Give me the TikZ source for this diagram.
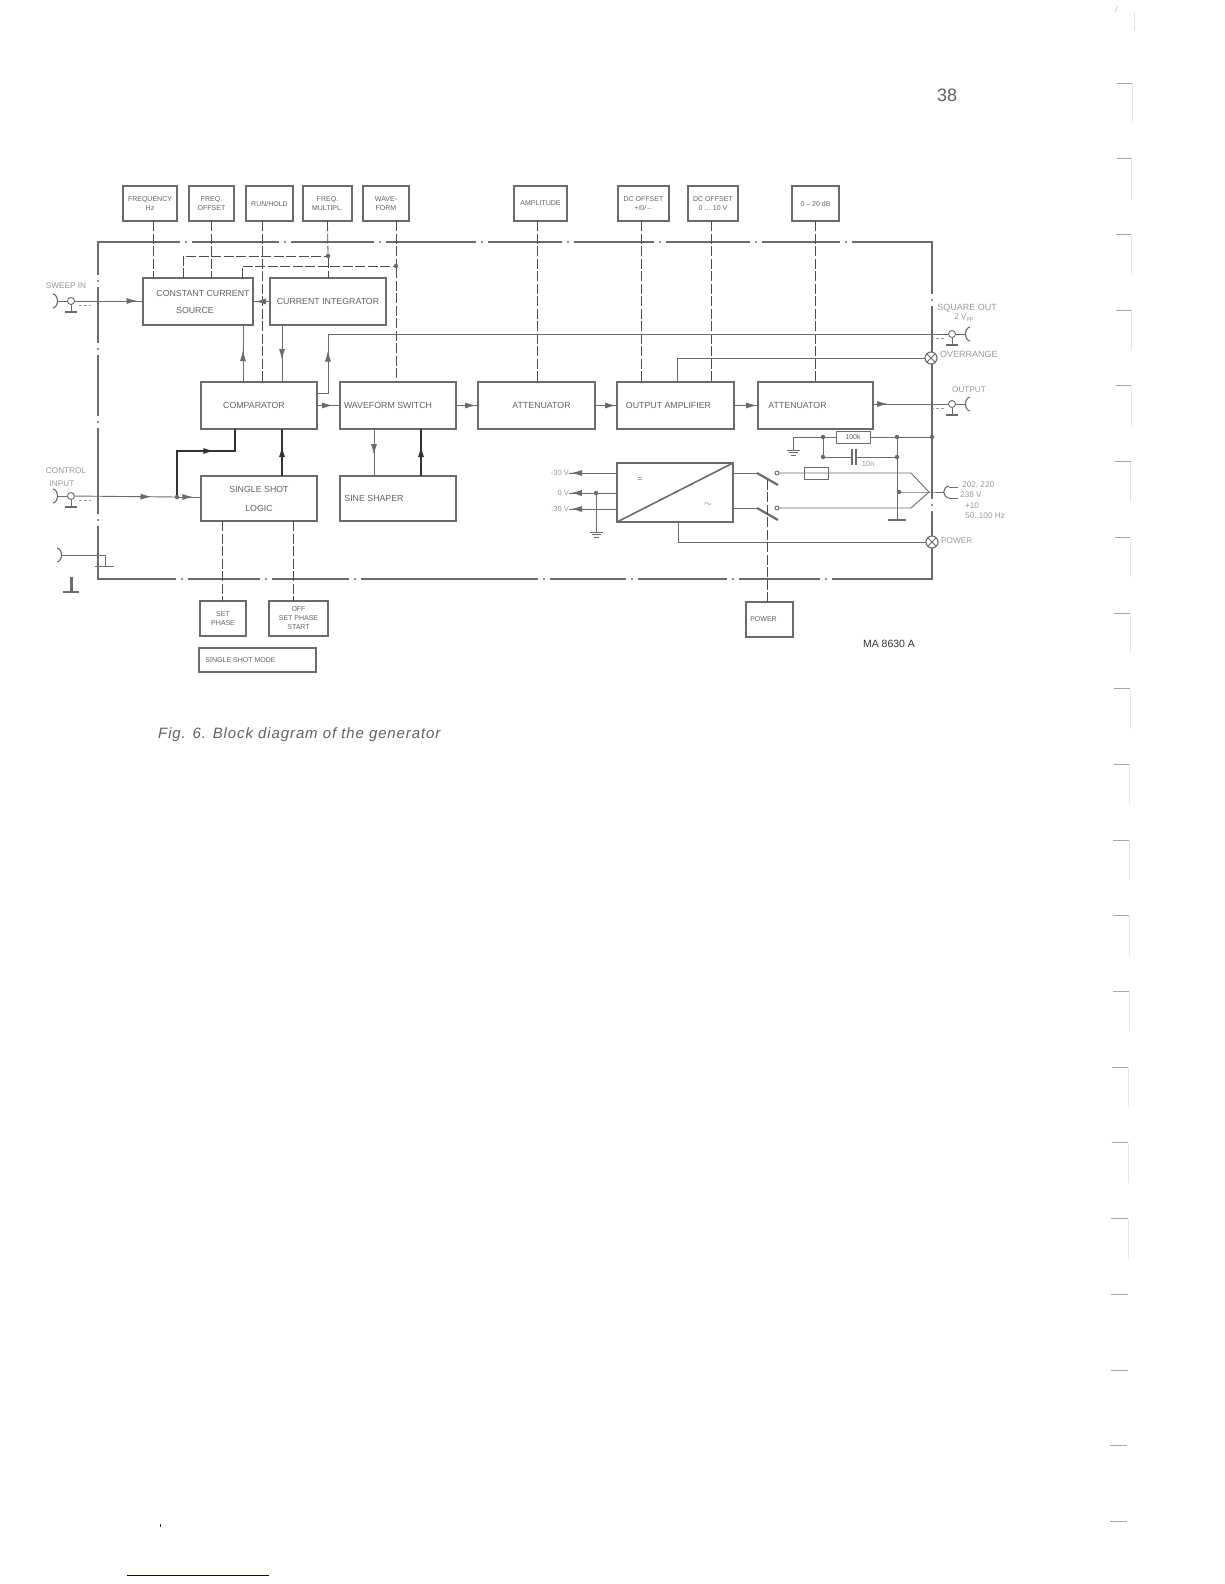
\documentclass[tikz,border=0pt]{standalone}
\usepackage{fontspec}
\setmainfont{Liberation Sans}
\newfontfamily\capfont[LetterSpace=6]{Liberation Sans}
\usetikzlibrary{arrows.meta,decorations.markings}
\definecolor{inkgray}{gray}{0.42}
\definecolor{textgray}{gray}{0.38}
\definecolor{palegray}{gray}{0.6}
\tikzset{
  blockbox/.style={draw=inkgray, line width=1.5pt, minimum height=47pt, inner sep=0pt, outer sep=0pt, align=center, text=textgray, font=\fontsize{8.8}{11}\selectfont},
  topbox/.style={blockbox, minimum height=35pt, font=\fontsize{7}{9}\selectfont},
  framebox/.style={draw=inkgray, line width=2.2pt, inner sep=0pt, outer sep=0pt},
  framegap/.style={draw=white, line width=4pt},
  wire/.style={draw=inkgray, line width=0.9pt},
  darkwire/.style={draw=black!80, line width=1.1pt},
  ctrlwire/.style={draw=black!70, line width=0.8pt, dash pattern=on 10pt off 2.5pt},
  heavy/.style={draw=inkgray, line width=2.2pt},
  arrowat/.style={decoration={markings, mark=at position #1 with {\arrow{Latex[length=11pt,width=6pt]}}}, postaction={decorate}},
  junc/.style={circle, fill=inkgray, inner sep=0pt, minimum size=4.5pt, outer sep=0pt},
  contact/.style={circle, draw=inkgray, line width=0.9pt, inner sep=0pt, minimum size=4pt, outer sep=0pt},
  lamp/.style={circle, draw=inkgray, line width=1.1pt, fill=white, inner sep=0pt, minimum size=12pt, outer sep=0pt},
  sidetext/.style={text=palegray, inner sep=0pt, font=\fontsize{8.2}{10}\selectfont},
  widetext/.style={sidetext, font=\fontsize{9}{10}\selectfont},
  smalltext/.style={text=palegray, inner sep=0pt, font=\fontsize{7.5}{10}\selectfont},
  scanmark/.style={draw=gray!70, line width=0.7pt},
  jackpic/.pic={
    \node[contact, minimum size=7pt] (-bnc) at (0,0) {};
    \coordinate (-cup) at (-13,0);
    \draw[wire] (-cup) -- (-bnc);
    \draw[wire] (0,3.5) -- (0,11);
    \draw[heavy, line width=1.6pt] (-6,11) -- (6,11);
    \draw[palegray, line width=0.6pt, densely dashed] (8,4) -- (20,4);
    \draw[wire, line width=1.1pt] (-18,-7) .. controls (-12,-6) and (-12,6) .. (-18,7);
  },
  earthpic/.pic={
    \draw[wire] (-6.5,0) -- (6.5,0);
    \draw[wire] (-4.5,2.5) -- (4.5,2.5);
    \draw[wire] (-2.5,5) -- (2.5,5);
  }
}

\begin{document}
\begin{tikzpicture}[x=1pt, y=-1pt]
    \useasboundingbox (0,0) rectangle (1224,1584);
    \node[framebox, minimum width=834pt, minimum height=337pt] (frame) at (515,410.5) {};
    \foreach \gx in {186,285,380,482,568,660,756,846} {
      \draw[framegap] (\gx-6,242) -- (\gx+6,242);
      \fill[inkgray] (\gx,242) circle (1.2);
    }
    \foreach \gx in {182,266,355,544,632,733,826} {
      \draw[framegap] (\gx-6,579) -- (\gx+6,579);
      \fill[inkgray] (\gx,579) circle (1.2);
    }
    \foreach \gy in {281,349,422,520} {
      \draw[framegap] (98,\gy-6) -- (98,\gy+6);
      \fill[inkgray] (98,\gy) circle (1.2);
    }
    \foreach \gy in {300,505} {
      \draw[framegap] (932,\gy-6) -- (932,\gy+6);
      \fill[inkgray] (932,\gy) circle (1.2);
    }

    \node[topbox, minimum width=54pt] (freq) at (150,203.5) {FREQUENCY\\Hz};
    \node[topbox, minimum width=45pt] (offs) at (211.5,203.5) {FREQ.\\OFFSET};
    \node[topbox, minimum width=47pt] (runh) at (269.5,203.5) {RUN/HOLD};
    \node[topbox, minimum width=49pt] (mult) at (327.5,203.5) {FREQ.\\MULTIPL.};
    \node[topbox, minimum width=46pt] (wave) at (386,203.5) {WAVE-\\FORM};
    \node[topbox, minimum width=53pt] (ampl) at (540.5,203.5) {AMPLITUDE};
    \node[topbox, minimum width=51pt] (dcone) at (643.5,203.5) {DC OFFSET\\+/0/$-$};
    \node[topbox, minimum width=50pt] (dctwo) at (713,203.5) {DC OFFSET\\0 ... 10 V};
    \node[topbox, minimum width=47pt] (dbbox) at (815.5,203.5) {0 -- 20 dB};

    \node[blockbox, minimum width=110pt] (ccs) at (198,301.5) {\hspace*{10pt}CONSTANT CURRENT\\[6pt]SOURCE\hspace*{6pt}};
    \node[blockbox, minimum width=116pt] (cint) at (328,301.5) {CURRENT INTEGRATOR};
    \node[blockbox, minimum width=116pt] (comp) at (259,405.5) {COMPARATOR\hspace*{10pt}};
    \node[blockbox, minimum width=116pt] (wsw) at (398,405.5) {WAVEFORM SWITCH\hspace*{20pt}};
    \node[blockbox, minimum width=117pt] (attone) at (536.5,405.5) {\hspace*{10pt}ATTENUATOR};
    \node[blockbox, minimum width=117pt] (oamp) at (675.5,405.5) {OUTPUT AMPLIFIER\hspace*{14pt}};
    \node[blockbox, minimum width=115pt] (atttwo) at (815.5,405.5) {ATTENUATOR\hspace*{36pt}};
    \node[blockbox, minimum width=116pt, minimum height=45pt] (ssl) at (259,498.5) {SINGLE SHOT\\[8pt]LOGIC};
    \node[blockbox, minimum width=116pt, minimum height=45pt] (sine) at (398,498.5) {SINE SHAPER\hspace*{48pt}};
    \node[topbox, minimum width=46pt] (setp) at (223,618.5) {SET\\PHASE};
    \node[topbox, minimum width=59pt] (offp) at (298.5,618.5) {OFF\\SET PHASE\\START};
    \node[topbox, minimum width=117pt, minimum height=24pt] (ssm) at (257.5,660) {SINGLE SHOT MODE\hspace*{34pt}};
    \node[topbox, minimum width=47pt] (pwr) at (769.5,619.5) {POWER\hspace*{12pt}};
    \node[blockbox, minimum width=116pt, minimum height=59pt] (rect) at (675,492.5) {};
    \draw[heavy, line width=1.6pt] (rect.south west) -- (rect.north east);
    \node[text=textgray, inner sep=0pt] (dcsign) at (640,480) {\fontsize{8}{8}\selectfont =};
    \node[text=textgray, inner sep=0pt] (acsign) at (708,505) {$\sim$};

    \node[junc] (multj) at (328,256) {};
    \node[junc] (wavej) at (396,266) {};
    \node[junc] (ctlj) at (177,497) {};

    \pic (sweep) at (71,301) {jackpic};
    \pic (ctl) at (71,496) {jackpic};
    \pic[xscale=-1] (sqo) at (952,334) {jackpic};
    \pic[xscale=-1] (out) at (952,404) {jackpic};
    \node[lamp] (ovrl) at (931,358) {};
    \node[lamp] (pwrl) at (932,542) {};
    \draw[wire] (ovrl.45) -- (ovrl.225);
    \draw[wire] (ovrl.135) -- (ovrl.315);
    \draw[wire] (pwrl.45) -- (pwrl.225);
    \draw[wire] (pwrl.135) -- (pwrl.315);

    \draw[ctrlwire] ([xshift=3]freq.south) -- ([xshift=3]freq.south |- ccs.north);
    \draw[ctrlwire] (offs.south) -- (offs.south |- ccs.north);
    \draw[ctrlwire] ([xshift=-7.5]runh.south) -- ([xshift=-7.5]runh.south |- comp.north);
    \draw[ctrlwire] (mult.south) -- (multj);
    \draw[ctrlwire] (multj) -- (multj |- cint.north);
    \draw[ctrlwire] ([xshift=10]wave.south) -- (wavej);
    \draw[ctrlwire] (wavej) -- (wavej |- wsw.north);
    \draw[ctrlwire] ([xshift=-15]ccs.north) |- (multj);
    \draw[ctrlwire] ([xshift=44]ccs.north) |- (wavej);
    \draw[ctrlwire] ([xshift=-3.5]ampl.south) -- ([xshift=-3.5]ampl.south |- attone.north);
    \draw[ctrlwire] ([xshift=-2.5]dcone.south) -- ([xshift=-2.5]dcone.south |- oamp.north);
    \draw[ctrlwire] ([xshift=-2]dctwo.south) -- ([xshift=-2]dctwo.south |- oamp.north);
    \draw[ctrlwire] (dbbox.south) -- (dbbox.south |- atttwo.north);
    \draw[ctrlwire] ([xshift=-0.5]setp.south |- ssl.south) -- ([xshift=-0.5]setp.north);
    \draw[ctrlwire] ([xshift=-5.5]offp.north |- ssl.south) -- ([xshift=-5.5]offp.north);

    \draw[wire, arrowat=63pt] (sweep-bnc) -- (ccs.west |- sweep-bnc);
    \draw[wire, arrowat=15pt] (cint.west) -- (ccs.east);
    \draw[wire, arrowat=32pt] ([xshift=-16]comp.north) -- ([xshift=-16]comp.north |- ccs.south);
    \draw[wire, arrowat=35pt] ([xshift=-46]cint.south) -- ([xshift=-46]cint.south |- comp.north);
    \draw[wire, arrowat=16pt] (comp.east) -- (wsw.west);
    \draw[wire, arrowat=20pt] (wsw.east) -- (attone.west);
    \draw[wire, arrowat=21pt] (attone.east) -- (oamp.west);
    \draw[wire, arrowat=23pt] (oamp.east) -- (atttwo.west);
    \draw[wire, arrowat=15pt] (atttwo.east |- out-bnc) -- (out-bnc);
    \coordinate (sqbend) at (328,334);
    \draw[wire, arrowat=54pt] ([yshift=12]comp.east) -| (sqbend) -- (sqo-bnc);
    \draw[wire] ([xshift=1.5]oamp.north) |- (ovrl);
    \draw[wire] ([xshift=3]rect.south) |- (pwrl);
    \draw[wire, arrowat=77pt] (ctl-bnc) -- (ctlj);
    \draw[wire, arrowat=14pt] (ctlj) -- (ssl.west |- ctlj);
    \coordinate (cmpbend) at (235,451);
    \draw[darkwire, arrowat=81pt] (ctlj) |- (cmpbend) -- (cmpbend |- comp.south);
    \draw[darkwire, arrowat=30pt] ([xshift=23]ssl.north) -- ([xshift=23]ssl.north |- comp.south);
    \draw[wire, arrowat=26pt] ([xshift=-24]wsw.south) -- ([xshift=-24]wsw.south |- sine.north);
    \draw[darkwire, arrowat=30pt] ([xshift=23]sine.north) -- ([xshift=23]sine.north |- wsw.south);

    \coordinate (gcup) at (62,555);
    \coordinate (gbend) at (105,555);
    \coordinate (gbar) at (105,566);
    \draw[wire] (gcup) -- (gbend) -- (gbar);
    \draw[wire] ([xshift=-10]gbar) -- ([xshift=9]gbar);
    \draw[wire, line width=1.1pt] (57,548) .. controls (63,549) and (63,561) .. (57,562);
    \coordinate (gnd) at (71,577);
    \draw[heavy, line width=3pt] (gnd) -- ++(0,15);
    \draw[heavy, line width=2.6pt] ([xshift=-8]gnd |- 0,592) -- ([xshift=8]gnd |- 0,592);

    \coordinate (rgnd) at (793,437);
    \node[junc] (rj) at (823,437) {};
    \node[blockbox, line width=1pt, minimum width=34pt, minimum height=12pt, font=\fontsize{7}{8}\selectfont] (rhund) at (853,437) {100k};
    \node[junc] (pj) at (897,437) {};
    \node[junc] (fj) at (932,437) {};
    \node[junc] (cj) at (823,457) {};
    \node[junc] (cp) at (897,457) {};
    \node[junc] (mj) at (899,492) {};
    \coordinate (capl) at (852,457);
    \coordinate (capr) at (856,457);
    \coordinate (gbot) at (897,520);
    \draw[wire] (rhund.west) -- (rj) -- (rgnd) -- ++(0,13);
    \pic at (793,450) {earthpic};
    \draw[wire] (rhund.east) -- (pj) -- (fj);
    \draw[wire] (rj) -- (cj) -- (capl);
    \draw[wire] (capr) -- (cp);
    \draw[wire, line width=1.2pt] ([yshift=8]capl) -- ([yshift=-8]capl);
    \draw[wire, line width=1.2pt] ([yshift=8]capr) -- ([yshift=-8]capr);
    \node[smalltext] (tenn) at (868,464) {10n};
    \draw[wire] (pj) -- (cp) -- (gbot);
    \draw[heavy, line width=1.6pt] ([xshift=-9]gbot) -- ([xshift=9]gbot);

    \node[contact] (contone) at (777,473) {};
    \node[contact] (conttwo) at (777,508) {};
    \coordinate (swone) at (757,473);
    \coordinate (swtwo) at (757,508);
    \coordinate (swtop) at (767,479);
    \coordinate (bendone) at (911,473);
    \coordinate (bendtwo) at (911,508);
    \coordinate (plugj) at (929,492);
    \coordinate (plugcup) at (944,492);
    \node[blockbox, line width=1pt, minimum width=24pt, minimum height=12pt] (fuse) at (816,473) {};
    \draw[wire] ([yshift=19.5]rect.east) -- (swone);
    \draw[wire] ([yshift=-15.5]rect.east) -- (swtwo);
    \draw[heavy] (swone) -- (778,485);
    \draw[heavy] (swtwo) -- (778,520);
    \draw[ctrlwire] (pwr.north -| swtop) -- (swtop);
    \draw[wire] (contone) -- (bendone) -- (plugj) -- (bendtwo) -- (conttwo);
    \draw[wire] (mj) -- (plugj) -- (plugcup);
    \draw[wire, line width=1.1pt] (949,486) .. controls (942,487) and (942,497) .. (949,498);
    \draw[wire] (949,487) -- (958,487);
    \draw[wire] (949,498) -- (958,498);

    \node[junc] (zeroj) at (596,493) {};
    \coordinate (zerognd) at (596,532);
    \node[smalltext, anchor=east] (vneg) at (569,473) {-30 V};
    \node[smalltext, anchor=east] (vzero) at (569,493) {0 V};
    \node[smalltext, anchor=east] (vpos) at (569,509) {:30 V};
    \draw[wire, arrowat=46pt] ([yshift=19.5]rect.west) -- (vneg.east);
    \draw[wire] (rect.west |- zeroj) -- (zeroj);
    \draw[wire, arrowat=23pt] (zeroj) -- (vzero.east);
    \draw[wire, arrowat=46pt] ([yshift=-16.5]rect.west) -- (vpos.east);
    \draw[wire] (zeroj) -- (zerognd);
    \pic at (596,532) {earthpic};

    \node[sidetext] (sweeplab) at (66,286) {SWEEP IN};
    \node[sidetext] (ctllab) at (66,471) {CONTROL};
    \node[sidetext] (inplab) at (62,484) {INPUT};
    \node[widetext] (sqlab) at (967,308) {SQUARE OUT};
    \node[sidetext] (vpplab) at (964,318) {2 V\textsubscript{pp}};
    \node[widetext, anchor=west] (ovrlab) at (940,354) {OVERRANGE};
    \node[sidetext] (outlab) at (969,390) {OUTPUT};
    \node[sidetext, anchor=west] (pwrlab) at (941,541) {POWER};
    \node[sidetext, anchor=west] (mainsa) at (962,485) {202, 220};
    \node[sidetext, anchor=west] (mainsb) at (960,495) {238 V};
    \node[sidetext] (mainsc) at (972,506) {+10};
    \node[sidetext, anchor=west] (mainsd) at (965,516) {50..100 Hz};
    \node[inner sep=0pt, text=black!80, font=\fontsize{10.5}{11}\selectfont] (mark) at (889,644) {MA 8630 A};
    \node[inner sep=0pt, text=textgray, font=\fontsize{18}{20}\selectfont] (pageno) at (947,95) {38};
    \node[inner sep=0pt, anchor=west, text=textgray, font=\capfont\fontsize{15}{16}\selectfont\itshape] (caption) at (158,735) {Fig. 6. Block diagram of the generator};

    \foreach \i in {0,...,19} {
      \draw[scanmark] (1117-0.37*\i,83+75.7*\i) -- (1132-0.26*\i,83+75.7*\i);
      \ifnum\i<16
        \draw[gray!20, line width=0.7pt] (1132-0.26*\i,83+75.7*\i) -- (1132-0.26*\i,123+75.7*\i);
      \fi
    }
    \draw[gray!35, line width=0.7pt] (1115,12) -- (1118,6);
    \draw[gray!25, line width=0.7pt] (1134,13) -- (1134,30);
    \fill[black!80] (160,1524) rectangle (161,1527);
    \draw[blue!50!black, line width=1pt] (127,1575) -- (269,1575);
  \end{tikzpicture}
\end{document}
